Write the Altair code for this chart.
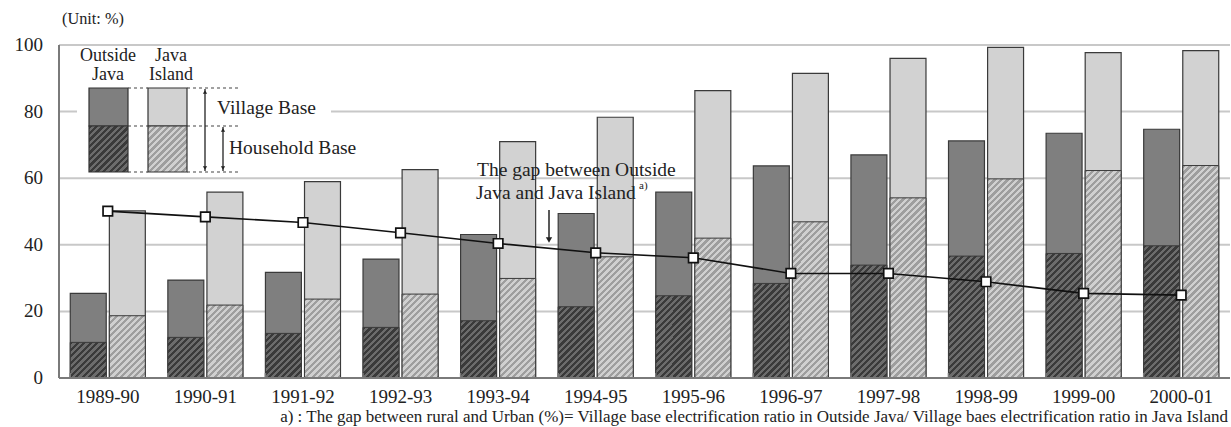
import altair as alt

years = ["1989-90", "1990-91", "1991-92", "1992-93", "1993-94", "1994-95",
         "1995-96", "1996-97", "1997-98", "1998-99", "1999-00", "2000-01"]
outside_village = [25.4, 29.4, 31.7, 35.7, 43.1, 49.4, 55.8, 63.7, 67.0, 71.2, 73.5, 74.7]
outside_household = [10.7, 12.2, 13.4, 15.2, 17.2, 21.4, 24.7, 28.4, 33.9, 36.6, 37.4, 39.7]
java_village = [50.2, 55.8, 59.0, 62.6, 71.0, 78.3, 86.3, 91.5, 96.0, 99.3, 97.7, 98.3]
java_household = [18.7, 21.9, 23.7, 25.2, 29.9, 36.4, 42.0, 46.9, 54.1, 59.8, 62.3, 63.8]
gap = [50.1, 48.4, 46.7, 43.6, 40.4, 37.6, 36.1, 31.4, 31.4, 28.9, 25.4, 24.9]
series = ["Outside Java", "Java Island"]
y_ticks = [0, 20, 40, 60, 80, 100]

W, H = 1171, 333
BAR_W = 36.0
STRIPE = 6.5
FONT = "Liberation Serif"
TXT = "#222222"
AXIS_C = "#7a7a7a"

DARK_V, LIGHT_V = "#7f7f7f", "#d2d2d2"
DARK_H = ("#3a3a3a", "#6c6c6c")
LIGHT_H = ("#9e9e9e", "#d0d0d0")


def hatch(h_px, w_px, base, stripe, frac=0.5):
    h_px = max(h_px, 1.0)
    r = h_px / w_px
    a = (1 + r) / (1 + r * r)
    n = (w_px + h_px) / STRIPE
    stops = []
    k = 0
    while k < n:
        o0 = round(k / n, 5)
        o1 = round(min((k + frac) / n, 1.0), 5)
        o2 = round(min((k + 1) / n, 1.0), 5)
        stops += [{"offset": o0, "color": base}, {"offset": o1, "color": base},
                  {"offset": o1, "color": stripe}, {"offset": o2, "color": stripe}]
        k += 1
    return {"gradient": "linear", "x1": 0, "y1": 0, "x2": round(a, 5),
            "y2": round(a * r, 5), "stops": stops}


rows = []
for i, y in enumerate(years):
    rows.append({"year": y, "series": series[0], "village": outside_village[i],
                 "household": outside_household[i], "vfill": DARK_V,
                 "hfill": hatch(outside_household[i] * H / 100, BAR_W, *DARK_H)})
    rows.append({"year": y, "series": series[1], "village": java_village[i],
                 "household": java_household[i], "vfill": LIGHT_V,
                 "hfill": hatch(java_household[i] * H / 100, BAR_W, *LIGHT_H)})
bars_data = alt.Data(values=rows)
line_data = alt.Data(values=[{"year": y, "gap": g} for y, g in zip(years, gap)])
tick_data = alt.Data(values=[{"v": v, "label": str(v)} for v in y_ticks])
one = alt.Data(values=[{"k": 0}])

x_main = alt.X("year:N", sort=years, axis=None,
               scale=alt.Scale(paddingInner=0.231, paddingOuter=0.1155))
x_plain = alt.X("year:N", sort=years, axis=None)
xoff = alt.XOffset("series:N", sort=series,
                   scale=alt.Scale(paddingInner=0.08, paddingOuter=0))
yscale = alt.Scale(domain=[0, 100], nice=False, zero=True)

# manual axes (grid, labels, domain lines)
grid = alt.Chart(tick_data).transform_filter(alt.datum.v > 0).mark_rule(
    color="#c8c8c8", strokeWidth=2).encode(
    y=alt.Y("v:Q", scale=yscale, axis=None), x=alt.value(0), x2=alt.value(W))
ylabels = alt.Chart(tick_data).mark_text(font=FONT, fontSize=19, color=TXT,
                                         align="right", baseline="middle").encode(
    y=alt.Y("v:Q", scale=yscale, axis=None), x=alt.value(-16), text="label:N")
xlabels = alt.Chart(line_data).mark_text(font=FONT, fontSize=19, color=TXT,
                                         align="center", baseline="middle").encode(
    x=x_plain, y=alt.value(H + 19), text="year:N")

village = alt.Chart(bars_data).mark_bar(stroke="#3a3a3a", strokeWidth=1.2).encode(
    x=x_main, xOffset=xoff,
    y=alt.Y("village:Q", stack=None, scale=yscale, axis=None),
    fill=alt.Fill("vfill:N", scale=None),
)
household = alt.Chart(bars_data).mark_bar(stroke="#3a3a3a", strokeWidth=1.0).encode(
    x=x_plain, xOffset=xoff,
    y=alt.Y("household:Q", stack=None, scale=yscale, axis=None),
    fill=alt.Fill("hfill:N", scale=None),
)

ticks = alt.Chart(line_data).mark_rule(color=AXIS_C, strokeWidth=1.5).encode(
    x=alt.X("year:N", sort=years, axis=None, bandPosition=0),
    y=alt.value(H), y2=alt.value(H - 5))
ticks_end = alt.Chart(line_data).transform_filter(
    alt.datum.year == years[-1]).mark_rule(color=AXIS_C, strokeWidth=1.5).encode(
    x=alt.X("year:N", sort=years, axis=None, bandPosition=1),
    y=alt.value(H), y2=alt.value(H - 5))

line = alt.Chart(line_data).mark_line(color="#111111", strokeWidth=1.6).encode(
    x=x_plain, y=alt.Y("gap:Q", scale=yscale, axis=None))
points = alt.Chart(line_data).mark_point(shape="square", filled=True, fill="white",
                                         stroke="#111111", strokeWidth=1.7, size=90,
                                         opacity=1).encode(
    x=x_plain, y=alt.Y("gap:Q", scale=yscale, axis=None))


def rect(x1, x2, y1, y2, fill, stroke=None):
    kw = {"fill": fill}
    if stroke:
        kw.update(stroke=stroke, strokeWidth=1.2)
    return alt.Chart(one).mark_rect(**kw).encode(
        x=alt.value(x1), x2=alt.value(x2), y=alt.value(y1), y2=alt.value(y2))


def hrule(x1, x2, y, dash=None, color="#444444", width=1.2):
    kw = {"color": color, "strokeWidth": width}
    if dash:
        kw["strokeDash"] = dash
    return alt.Chart(one).mark_rule(**kw).encode(
        x=alt.value(x1), x2=alt.value(x2), y=alt.value(y))


def vrule(x, y1, y2, color="#222222", width=1.3):
    return alt.Chart(one).mark_rule(color=color, strokeWidth=width).encode(
        x=alt.value(x), y=alt.value(y1), y2=alt.value(y2))


def text(t, x, y, size=19.5, align="center", baseline="middle"):
    return alt.Chart(one).mark_text(text=t, font=FONT, fontSize=size, color=TXT,
                                    align=align, baseline=baseline).encode(
        x=alt.value(x), y=alt.value(y))


def tri(x, y, shape, size=28):
    return alt.Chart(one).mark_point(shape=shape, filled=True, color="#222222",
                                     size=size, opacity=1).encode(
        x=alt.value(x), y=alt.value(y))


legend_box = rect(18, 272, 3, 130, "white")

sw_dark_h = alt.Chart(alt.Data(values=[{"g": hatch(46, 39, *DARK_H)}])).mark_rect(
    stroke="#333333", strokeWidth=1.2).encode(
    x=alt.value(30), x2=alt.value(69), y=alt.value(81), y2=alt.value(127),
    fill=alt.Fill("g:N", scale=None))
sw_light_h = alt.Chart(alt.Data(values=[{"g": hatch(46, 39, *LIGHT_H)}])).mark_rect(
    stroke="#333333", strokeWidth=1.2).encode(
    x=alt.value(89), x2=alt.value(128), y=alt.value(81), y2=alt.value(127),
    fill=alt.Fill("g:N", scale=None))

legend_layers = [
    rect(30, 69, 43, 81, DARK_V, "#333333"),
    rect(89, 128, 43, 81, LIGHT_V, "#333333"),
    sw_dark_h, sw_light_h,
    hrule(69, 89, 43, [3, 3]), hrule(128, 179, 43, [3, 3]),
    hrule(69, 89, 81, [3, 3]), hrule(128, 179, 81, [3, 3]),
    hrule(69, 89, 127, [3, 3]), hrule(128, 181, 127, [3, 3]),
    vrule(146, 44, 126), tri(146, 47, "triangle-up", 18), tri(146, 123, "triangle-down", 18),
    vrule(164, 82, 126), tri(164, 85, "triangle-up", 18), tri(164, 123, "triangle-down", 18),
    text("Outside", 49, 11, size=18), text("Java", 49, 29.5, size=18),
    text("Java", 112, 11, size=18), text("Island", 112, 29.5, size=18),
    text("Village Base", 158, 63, align="left"),
    text("Household Base", 170, 103, align="left"),
]

annot = [
    text("The gap between Outside", 418, 125, align="left"),
    text("Java and Java Island", 417, 148, align="left"),
    text("a)", 580, 141, size=11, align="left"),
    vrule(490, 165, 193, width=1.5),
    tri(490, 195, "triangle-down", 40),
    text("(Unit: %)", 3, -26, size=16.3, align="left"),
    text("a) : The gap between rural and Urban (%)= Village base electrification ratio in "
         "Outside Java/ Village baes electrification ratio in Java Island",
         1169, 371.5, size=17, align="right"),
]

domains = [vrule(0, 0, H, color=AXIS_C, width=2), hrule(0, W, H, color=AXIS_C, width=2)]

chart = alt.layer(
    grid, legend_box, village, household, ticks, ticks_end, *domains, line, points,
    ylabels, xlabels, *legend_layers, *annot
).properties(
    width=W, height=H,
    autosize=alt.AutoSizeParams(type="none"),
    padding={"left": 59, "top": 45, "right": 1, "bottom": 49},
).configure_view(stroke=None)

chart.save("out.html", embed_options={"renderer": "svg", "actions": False})
